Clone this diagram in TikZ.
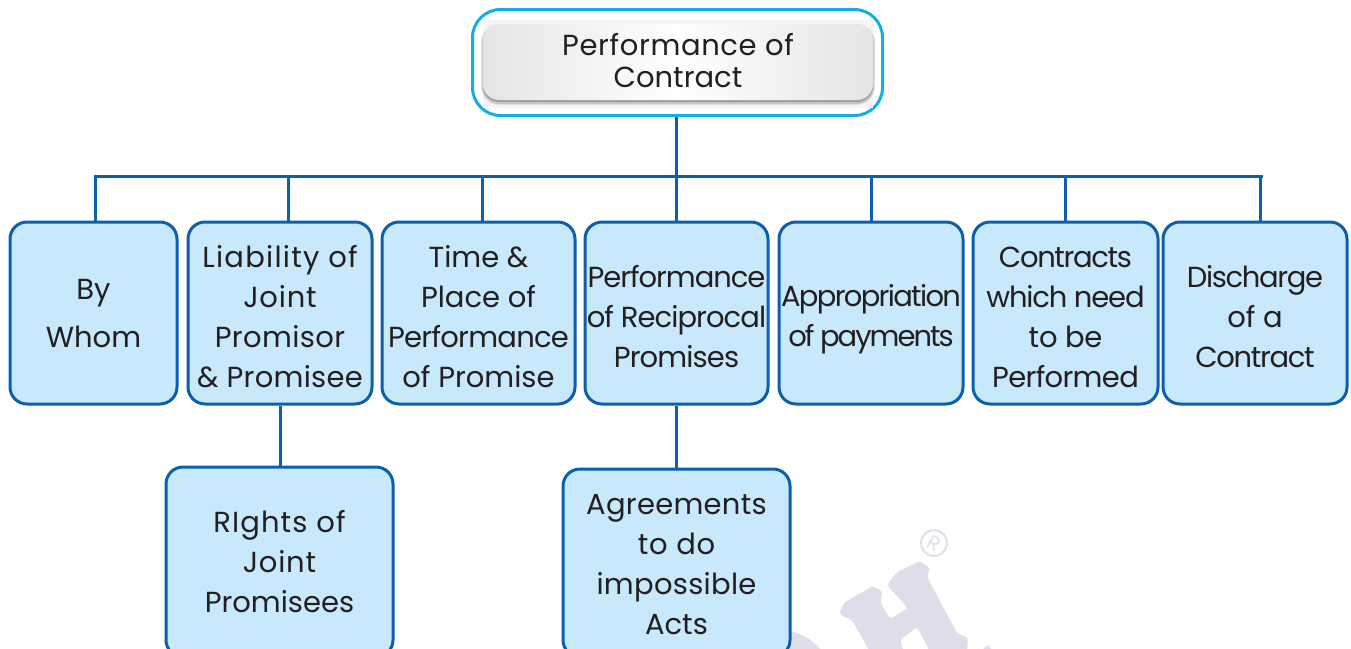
\documentclass[tikz,border=0pt]{standalone}
\usepackage{fontspec}
\setmainfont{Poppins}
\definecolor{linkblue}{HTML}{0B5FAC}
\definecolor{boxfill}{HTML}{C7E9FB}
\definecolor{cyanline}{HTML}{12AEE8}
\definecolor{inkc}{HTML}{231F20}
\definecolor{wm}{HTML}{DEDEE8}
\definecolor{greyedge}{HTML}{E4E5E6}
\newcommand{\ls}[2]{{\addfontfeature{LetterSpace=#1}#2}}
\newcommand{\firstl}{\rule{0pt}{34pt}}
\newcommand{\lastl}{\rule[-6pt]{0pt}{6pt}}
\tikzset{
  x=1pt,y=-1pt,
  bluebox/.style={draw=linkblue,line width=3pt,fill=boxfill,rounded corners=17pt,align=center,text=inkc,
    font=\fontsize{29}{40}\selectfont,inner sep=0pt,anchor=center},
  link/.style={draw=linkblue,line width=3pt},
  titleouter/.style={draw=cyanline,line width=3pt,fill=white,rounded corners=28pt,minimum width=410pt,minimum height=106pt,inner sep=0pt},
  titleinner/.style={left color=greyedge,right color=greyedge,middle color=white,rounded corners=16pt,minimum width=390pt,minimum height=76pt,
    align=center,text=inkc,font=\fontsize{29}{32}\selectfont,inner sep=0pt},
}
\begin{document}
\begin{tikzpicture}
\useasboundingbox (0,0) rectangle (1351,648);
\clip (0,0) rectangle (1351,648);
% watermark
\fill[wm,rounded corners=3pt] (840,610) -- (845,602) -- (873,586) -- (883,592) -- (880,602) -- (890,619) -- (908,608) -- (887,585) -- (897,572) -- (920,561) -- (930,568) -- (927,577) -- (957,633) -- (968,638) -- (967,652) -- (930,652) -- (917,627) -- (900,640) -- (904,652) -- (870,652) -- (852,620) -- (840,615) -- cycle;
\fill[wm] (790,631) .. controls (803,634) and (815,642) .. (821,650) -- (790,650) -- cycle;
\fill[wm] (982,650) -- (988,645) -- (992,650) -- cycle;
\node[draw=wm,line width=2pt,circle,minimum size=26pt,inner sep=0pt,text=wm,rotate=-30,font=\fontsize{20}{20}\selectfont] (reg) at (934,543) {R};
% title
\node[titleouter] (topouter) at (677.5,62.5) {};
\fill[black!4] (483,20) rectangle (873,108);
\fill[black!10,rounded corners=18pt] (481,24) rectangle (875,105);
\fill[black!22,rounded corners=17pt] (482,25) rectangle (874,104);
\fill[black!38,rounded corners=16pt] (483,26) rectangle (873,102);
\node[titleinner] (top) at (678,62) {\rule{0pt}{26pt}\ls{2.2}{Performance of}\\Contract\rule[-8pt]{0pt}{8pt}};
% bus
\coordinate (b1) at (95,176);
\coordinate (b2) at (288,176);
\coordinate (b3) at (482,176);
\coordinate (b4) at (676,176);
\coordinate (b5) at (871,176);
\coordinate (b6) at (1065,176);
\coordinate (b7) at (1260,176);
\coordinate (bend) at (1263,176);
% boxes
\node[bluebox,minimum width=167pt,minimum height=182pt] (by) at (93.5,313) {\rule{0pt}{22pt}By\\[8pt]Whom};
\node[bluebox,minimum width=184pt,minimum height=182pt] (liab) at (280,313) {\firstl\ls{4.3}{Liability of}\\\ls{2.7}{Joint}\\\ls{1.3}{Promisor}\\\ls{1}{\& Promisee}\lastl};
\node[bluebox,minimum width=193pt,minimum height=182pt] (time) at (478.5,313) {\firstl Time \&\\Place of\\\ls{-2.5}{Performance}\\of Promise\lastl};
\node[bluebox,minimum width=183pt,minimum height=182pt] (recip) at (676.5,313) {\firstl\ls{-3.6}{Performance}\\\ls{-3.2}{of Reciprocal}\\\ls{-3}{Promises}\lastl};
\node[bluebox,minimum width=184pt,minimum height=182pt] (approp) at (871,313) {\firstl\ls{-5.8}{Appropriation}\\\ls{-6.9}{of payments}\lastl};
\node[bluebox,minimum width=185pt,minimum height=182pt] (need) at (1065.5,313) {\firstl\ls{-4.6}{Contracts}\\\ls{-4}{which need}\\\ls{-1}{to be}\\\ls{-2.3}{Performed}\lastl};
\node[bluebox,minimum width=184pt,minimum height=182pt] (disch) at (1255,313) {\firstl\ls{-4.6}{Discharge}\\of a\\\ls{-4.7}{Contract}\lastl};
\node[bluebox,minimum width=227pt,minimum height=190pt] (rights) at (279.5,562) {\ls{3.8}{RIghts of}\\\ls{2.7}{Joint}\\Promisees};
\node[bluebox,minimum width=227pt,minimum height=188pt] (agree) at (676.5,563) {\rule{0pt}{23pt}\ls{1}{Agreements}\\\ls{2.8}{to do}\\\ls{1}{impossible}\\Acts};
% connectors
\draw[link] (b1 |- by.north) -- (b1) -- (bend);
\draw[link] (topouter.south -| b4) -- (b4);
\draw[link] (b2) -- (b2 |- liab.north);
\draw[link] (b3) -- (b3 |- time.north);
\draw[link] (b4) -- (recip.north -| b4);
\draw[link] (b5) -- (b5 |- approp.north);
\draw[link] (b6) -- (b6 |- need.north);
\draw[link] (b7) -- (b7 |- disch.north);
\draw[link] (liab.south) -- (liab.south |- rights.north);
\draw[link] (recip.south) -- (recip.south |- agree.north);
\end{tikzpicture}
\end{document}
